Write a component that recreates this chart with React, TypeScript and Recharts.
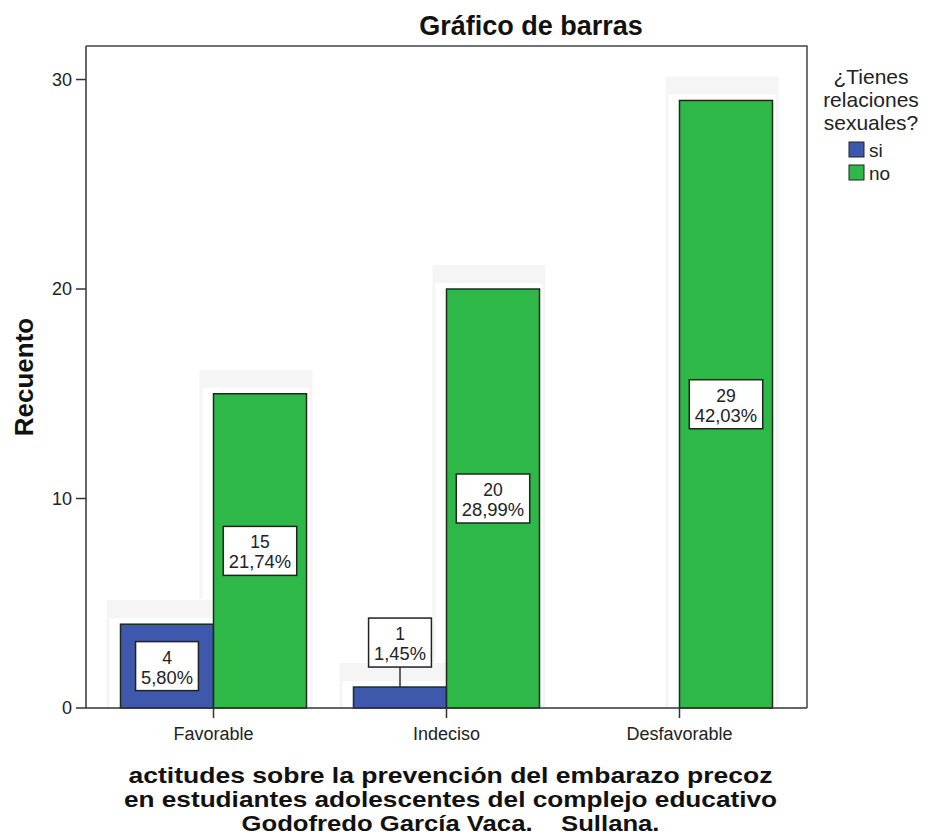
import React from 'react'
import { BarChart, Bar, XAxis, YAxis, LabelList } from 'recharts'

const categories = ['Favorable', 'Indeciso', 'Desfavorable']
const siCounts = [4, 1, 0]
const noCounts = [15, 20, 29]
const yTicks = [0, 10, 20, 30]
const legendTitle = ['¿Tienes', 'relaciones', 'sexuales?']
const xTitle = [
  'actitudes sobre la prevención del embarazo precoz',
  'en estudiantes adolescentes del complejo educativo',
  'Godofredo García Vaca.    Sullana.',
]
const xTitleWidths = [644, 653, 418]

const BLUE = '#3E58AC'
const GREEN = '#2EB848'
const HALO = '#f5f5f5'
const FONT = '"Liberation Sans", Arial, sans-serif'

const W = 928
const H = 840
const TOP = 46
const RIGHT = 121
const Y_AXIS_W = 86
const X_AXIS_H = 132

const total = [...siCounts, ...noCounts].reduce((a, b) => a + b, 0)
const data = categories.map((name, i) => ({ name, si: siCounts[i], no: noCounts[i] }))

function pct(v: number) {
  return (v / total * 100).toFixed(2).replace('.', ',') + '%'
}

// rough Arial widths, good enough to size the boxes
function textWidth(s: string, size: number) {
  let w = 0
  for (const c of s) w += c === ',' ? 0.278 : c === '%' ? 0.889 : 0.556
  return w * size
}

function haloShape(key: 'si' | 'no', color: string) {
  return (props: any) => {
    const { x, y, width, height, payload } = props
    const v = payload[key]
    if (!v) return <g />
    const ratio = height / v
    const bottom = y + height
    // SPSS leaves a faint grey ghost round each bar
    let leftEnd = bottom
    if (key === 'no' && payload.si > 0) leftEnd = bottom - payload.si * ratio - 25
    return (
      <g>
        <rect x={x - 14} y={y - 24} width={width + 20} height={18} fill={HALO} />
        {leftEnd > y - 6 && <rect x={x - 14} y={y - 6} width={3} height={leftEnd - y + 6} fill={HALO} />}
        <rect x={x + width + 3} y={y - 6} width={3} height={height + 6} fill={HALO} />
        <rect x={x} y={y} width={width} height={height} fill={color} stroke="#1f2a1f" strokeWidth={1.5} />
      </g>
    )
  }
}

function renderLabel(props: any) {
  const { x, y, width, height, value } = props
  if (!value) return null
  const l1 = String(value)
  const l2 = pct(value)
  const fs = 17.5
  const bw = Math.max(textWidth(l1, 19), textWidth(l2, 19)) + 9
  const bh = 49
  const cx = x + width / 2
  const inside = height > bh + 10
  const top = inside ? y + height / 2 - bh / 2 : y - 20 - bh
  return (
    <g>
      {!inside && <line x1={cx} x2={cx} y1={top + bh} y2={y} stroke="#333" strokeWidth={1.5} />}
      <rect x={cx - bw / 2} y={top} width={bw} height={bh} fill="#fff" stroke="#222" strokeWidth={1.5} />
      <text x={cx} y={top + 22} textAnchor="middle" fontSize={fs} fill="#222" fontFamily={FONT}>{l1}</text>
      <text x={cx} y={top + 42} textAnchor="middle" fontSize={fs} fill="#222" fontFamily={FONT}
        textLength={textWidth(l2, 19) - 2} lengthAdjust="spacingAndGlyphs">{l2}</text>
    </g>
  )
}

function XTitle(props: any) {
  const { x, y, width } = props.viewBox
  const cx = x + width / 2 + 4
  return (
    <g>
      {xTitle.map((t, i) => (
        <text key={i} x={cx} y={y + 75 + i * 24} textAnchor="middle" fontSize={22} fontWeight="bold" fill="#111"
          fontFamily={FONT} textLength={xTitleWidths[i]} lengthAdjust="spacingAndGlyphs" style={{ whiteSpace: 'pre' }}>
          {t}
        </text>
      ))}
    </g>
  )
}

function YTitle(props: any) {
  const { x, y, height } = props.viewBox
  const tx = x + 33
  const ty = y + height / 2
  return (
    <text x={tx} y={ty} transform={`rotate(-90 ${tx} ${ty})`} textAnchor="middle" fontSize={26} fontWeight="bold" fill="#111" fontFamily={FONT}>
      Recuento
    </text>
  )
}

export default function App() {
  const axisLine = { stroke: '#333', strokeWidth: 1.5 }
  return (
    <div style={{ position: 'absolute', left: 0, top: 0, width: W, height: H, background: '#fff', fontFamily: FONT }}>
      <BarChart width={W} height={H} data={data} margin={{ top: TOP, right: RIGHT, bottom: 0, left: 0 }} barCategoryGap={23.5} barGap={0}>
        <XAxis
          dataKey="name"
          height={X_AXIS_H}
          padding={{ left: 11, right: 11 }}
          tickSize={10}
          tickMargin={9}
          tick={{ fontSize: 18, fill: '#222', fontFamily: FONT }}
          axisLine={axisLine}
          tickLine={axisLine}
          label={{ content: XTitle }}
        />
        <YAxis
          width={Y_AXIS_W}
          domain={[0, 31.6]}
          ticks={yTicks}
          tickSize={10}
          tickMargin={4}
          tick={{ fontSize: 18, fill: '#222', fontFamily: FONT }}
          axisLine={axisLine}
          tickLine={axisLine}
          label={{ content: YTitle }}
        />
        <Bar dataKey="si" fill={BLUE} shape={haloShape('si', BLUE)} isAnimationActive={false}>
          <LabelList dataKey="si" content={renderLabel} />
        </Bar>
        <Bar dataKey="no" fill={GREEN} shape={haloShape('no', GREEN)} isAnimationActive={false}>
          <LabelList dataKey="no" content={renderLabel} />
        </Bar>
      </BarChart>
      <svg width={W} height={H} style={{ position: 'absolute', left: 0, top: 0, pointerEvents: 'none' }}>
        {/* plot frame: top and right edges */}
        <path
          d={`M${Y_AXIS_W} ${TOP} H${W - RIGHT} V${H - X_AXIS_H}`}
          fill="none" stroke="#444" strokeWidth={1.5}
        />
        <text x={531} y={35} textAnchor="middle" fontSize={27} fontWeight="bold" fill="#111" fontFamily={FONT}>
          Gráfico de barras
        </text>
        {legendTitle.map((t, i) => (
          <text key={t} x={871} y={84 + i * 23} textAnchor="middle" fontSize={21} fill="#222" fontFamily={FONT}>{t}</text>
        ))}
        <rect x={849} y={142} width={15} height={15} fill={BLUE} stroke="#222" />
        <text x={869} y={157} fontSize={19} fill="#222" fontFamily={FONT}>si</text>
        <rect x={849} y={165} width={15} height={15} fill={GREEN} stroke="#222" />
        <text x={869} y={180} fontSize={19} fill="#222" fontFamily={FONT}>no</text>
      </svg>
    </div>
  )
}
